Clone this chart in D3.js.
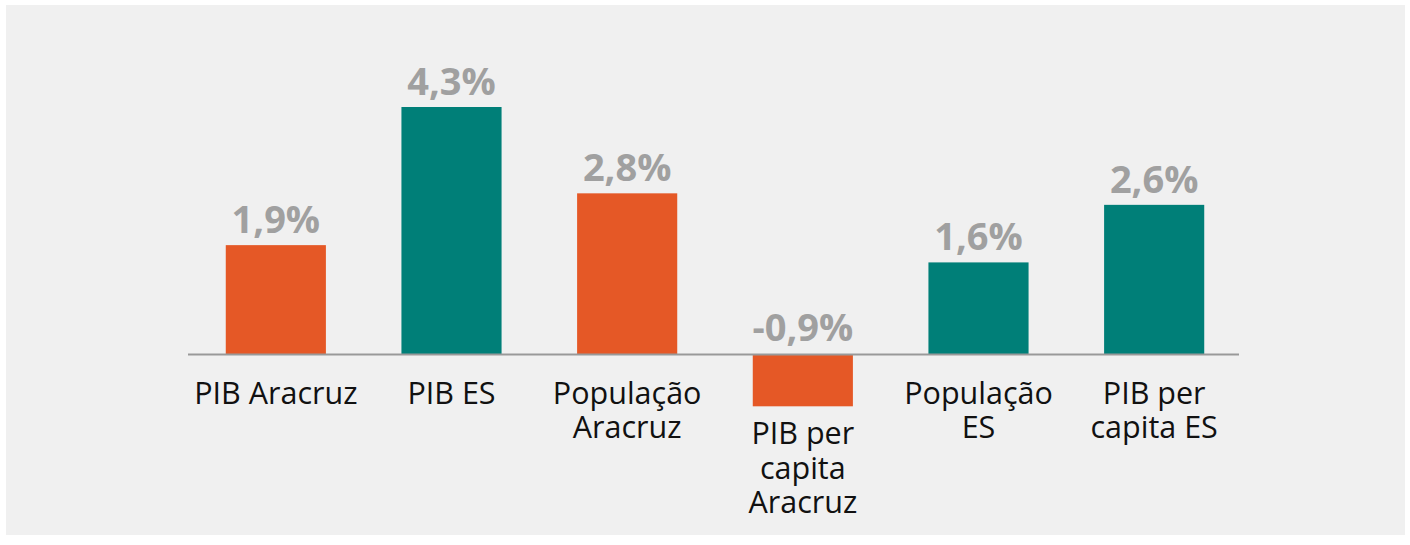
<!DOCTYPE html>
<html>
<head>
<meta charset="utf-8">
<script src="https://cdn.jsdelivr.net/npm/d3@7"></script>
<style>
  body { margin: 0; background: #fff; }
  svg { display: block; }
  .value { font-family: "Open Sans", sans-serif; font-weight: 700; fill: #a0a0a0; }
  .cat { font-family: "Open Sans", sans-serif; fill: #111; }
</style>
</head>
<body>
<div id="chart"></div>
<script>
const categories = ['PIB Aracruz', 'PIB ES', 'População Aracruz', 'PIB per capita Aracruz', 'População ES', 'PIB per capita ES']
const categoryLines = [
  ['PIB Aracruz'],
  ['PIB ES'],
  ['População', 'Aracruz'],
  ['PIB per', 'capita', 'Aracruz'],
  ['População', 'ES'],
  ['PIB per', 'capita ES']
]
const values = [1.9, 4.3, 2.8, -0.9, 1.6, 2.6]
const valueLabels = ['1,9%', '4,3%', '2,8%', '-0,9%', '1,6%', '2,6%']
const groups = ['Aracruz', 'ES', 'Aracruz', 'Aracruz', 'ES', 'ES']

const width = 1410
const height = 545
const colors = { Aracruz: '#e55826', ES: '#007f78' }

const svg = d3.select('#chart')
  .append('svg')
  .attr('width', width)
  .attr('height', height)

// panel background
svg.append('rect')
  .attr('x', 6).attr('y', 5)
  .attr('width', 1399).attr('height', 530)
  .attr('fill', '#f0f0f0')

const x = d3.scaleBand()
  .domain(categories)
  .range([188, 1242])
  .paddingInner(0.43)
  .paddingOuter(0.215)

// 4.3% -> y 107, 0 -> y 354.5
const y = d3.scaleLinear()
  .domain([0, 4.3])
  .range([354.5, 107])

const data = categories.map((c, i) => ({ cat: c, v: values[i], label: valueLabels[i], lines: categoryLines[i], group: groups[i] }))

svg.append('g').selectAll('rect')
  .data(data)
  .join('rect')
    .attr('x', d => x(d.cat))
    .attr('width', x.bandwidth())
    .attr('y', d => y(Math.max(0, d.v)))
    .attr('height', d => Math.abs(y(d.v) - y(0)))
    .attr('fill', d => colors[d.group])

// baseline
svg.append('line')
  .attr('x1', 188).attr('x2', 1239)
  .attr('y1', y(0)).attr('y2', y(0))
  .attr('stroke', '#999')
  .attr('stroke-width', 2)

// value labels
svg.append('g').selectAll('text')
  .data(data)
  .join('text')
    .attr('class', 'value')
    .attr('x', d => x(d.cat) + x.bandwidth() / 2)
    .attr('y', d => d.v >= 0 ? y(d.v) - 12 : y(0) - 14)
    .attr('text-anchor', 'middle')
    .attr('font-size', 38)
    .text(d => d.label)

// category labels
const catText = svg.append('g').selectAll('text')
  .data(data)
  .join('text')
    .attr('class', 'cat')
    .attr('text-anchor', 'middle')
    .attr('font-size', 30.5)
    .attr('y', d => d.v >= 0 ? y(0) + 49 : y(d.v) + 38)

catText.selectAll('tspan')
  .data(d => d.lines.map(l => ({ l, cx: x(d.cat) + x.bandwidth() / 2 })))
  .join('tspan')
    .attr('x', d => d.cx)
    .attr('dy', (d, i) => i === 0 ? 0 : 34.5)
    .text(d => d.l)
</script>
</body>
</html>
